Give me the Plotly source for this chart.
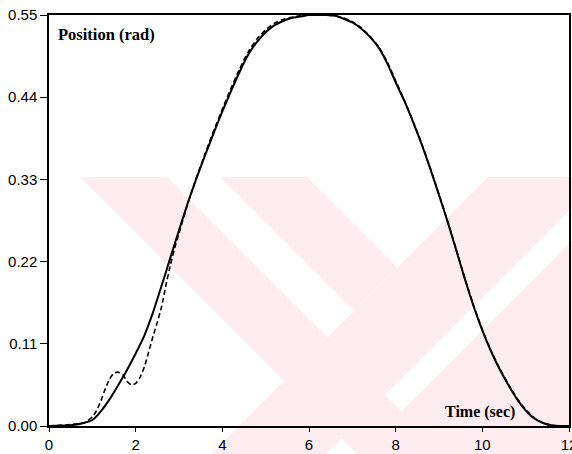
import plotly.graph_objects as go

# ---- data ----
t_solid = [0, 0.5, 0.8, 1.0, 1.2, 1.4, 1.6, 1.8, 2.0, 2.2, 2.4, 2.6, 2.8, 3.0, 3.2, 3.4, 3.6,
           3.8, 4.0, 4.2, 4.4, 4.6, 4.8, 5.0, 5.2, 5.4, 5.6, 5.8, 6.0, 6.2, 6.4, 6.6, 6.8, 7.0,
           7.2, 7.4, 7.6, 7.8, 8.0, 8.2, 8.4, 8.6, 8.8, 9.0, 9.2, 9.4, 9.6, 9.8, 10.0, 10.2,
           10.4, 10.6, 10.8, 11.0, 11.2, 11.4, 11.6, 11.8, 12.0]
v_solid = [0, 0.001, 0.004, 0.008, 0.020, 0.036, 0.055, 0.075, 0.097, 0.121, 0.152, 0.188,
           0.225, 0.262, 0.298, 0.331, 0.362, 0.392, 0.421, 0.448, 0.474, 0.497, 0.514, 0.527,
           0.536, 0.542, 0.546, 0.548, 0.550, 0.550, 0.550, 0.549, 0.545, 0.540, 0.532, 0.521,
           0.507, 0.486, 0.460, 0.435, 0.407, 0.377, 0.344, 0.309, 0.273, 0.235, 0.196, 0.160,
           0.128, 0.100, 0.076, 0.055, 0.036, 0.021, 0.010, 0.004, 0.001, 0.0, 0.0]

t_dash = [0, 0.5, 0.8, 1.0, 1.1, 1.2, 1.3, 1.4, 1.5, 1.6, 1.7, 1.8, 1.9, 2.0, 2.1, 2.2, 2.3,
          2.4, 2.5, 2.6, 2.7, 2.8, 2.9, 3.0, 3.2, 3.4, 3.6, 3.8, 4.0, 4.2, 4.4, 4.6, 4.8, 5.0,
          5.2, 5.4, 5.6, 5.8, 6.0, 6.2, 6.4, 6.6, 6.8, 7.0, 7.2, 7.4, 7.6, 7.8, 8.0, 8.2, 8.4,
          8.6, 8.8, 9.0, 9.2, 9.4, 9.6, 9.8, 10.0, 10.2, 10.4, 10.6, 10.8, 11.0, 11.2, 11.4,
          11.6, 11.8, 12.0]
v_dash = [0, 0.002, 0.004, 0.012, 0.021, 0.034, 0.050, 0.063, 0.071, 0.072, 0.069, 0.060,
          0.055, 0.057, 0.065, 0.079, 0.099, 0.120, 0.139, 0.160, 0.189, 0.215, 0.238, 0.258,
          0.297, 0.332, 0.364, 0.395, 0.424, 0.452, 0.478, 0.501, 0.518, 0.530, 0.539, 0.544,
          0.547, 0.549, 0.550, 0.550, 0.550, 0.549, 0.546, 0.541, 0.533, 0.522, 0.508, 0.488,
          0.462, 0.436, 0.408, 0.378, 0.345, 0.310, 0.274, 0.236, 0.197, 0.161, 0.129, 0.101,
          0.077, 0.056, 0.037, 0.022, 0.011, 0.004, 0.001, 0.0, 0.0]

x_ticks = [0, 2, 4, 6, 8, 10, 12]
x_ticktext = ["0", "2", "4", "6", "8", "10", "12"]
y_ticks = [0.0, 0.11, 0.22, 0.33, 0.44, 0.55]
y_ticktext = ["0.00", "0.11", "0.22", "0.33", "0.44", "0.55"]

y_label = "Position (rad)"
x_label = "Time (sec)"

# ---- layout geometry (pixels) ----
W, H = 572, 454
L, R, T, B = 49, 3, 15, 28
PW, PH = W - L - R, H - T - B


def px(xp, yp):
    return (xp - L) / PW, (H - B - yp) / PH


def path(points):
    pts = [px(a, b) for a, b in points]
    return "M " + " L ".join(f"{a:.4f},{b:.4f}" for a, b in pts) + " Z"


wm_color = "#fdedf1"
wm_polys = [
    [(80, 177), (167, 177), (444, 454), (357, 454)],
    [(220, 177), (307, 177), (397.5, 267.5), (354, 311)],
    [(488, 177), (572, 177), (572, 208), (326, 454), (211, 454)],
    [(572, 241), (572, 454), (359, 454)],
]

fig = go.Figure()
fig.add_trace(go.Scatter(x=t_solid, y=v_solid, mode="lines",
                         line=dict(color="black", width=2, shape="spline", smoothing=0.5),
                         showlegend=False, hoverinfo="skip"))
fig.add_trace(go.Scatter(x=t_dash, y=v_dash, mode="lines",
                         line=dict(color="black", width=1.6, dash="5px,3px", shape="spline", smoothing=0.5),
                         showlegend=False, hoverinfo="skip"))

shapes = [dict(type="path", xref="paper", yref="paper", path=path(p),
               fillcolor=wm_color, line=dict(width=0), layer="below") for p in wm_polys]

axis_common = dict(showline=True, linecolor="black", linewidth=1.5, mirror=True,
                   ticks="outside", tickwidth=1.2, tickcolor="black",
                   showgrid=False, zeroline=False, automargin=False,
                   tickfont=dict(family="Liberation Sans, Arial, sans-serif", size=15, color="black"))

fig.update_layout(
    width=W, height=H,
    margin=dict(l=L, r=R, t=T, b=B, pad=0, autoexpand=False),
    paper_bgcolor="white", plot_bgcolor="rgba(0,0,0,0)",
    xaxis=dict(range=[0, 12], tickvals=x_ticks, ticktext=x_ticktext, ticklen=4,
               ticklabeloverflow="allow", **axis_common),
    yaxis=dict(range=[0, 0.55], tickvals=y_ticks, ticktext=y_ticktext, ticklen=7,
               ticklabeloverflow="allow", **axis_common),
    shapes=shapes,
    annotations=[
        dict(text="<b>" + y_label + "</b>", xref="paper", yref="paper",
             x=px(56, 0)[0], y=px(0, 34)[1],
             xanchor="left", yanchor="middle", showarrow=False,
             font=dict(family="Liberation Serif, Times New Roman, serif", size=16.5, color="black")),
        dict(text="<b>" + x_label + "</b>", xref="paper", yref="paper",
             x=px(480, 0)[0], y=px(0, 412)[1],
             xanchor="center", yanchor="middle", showarrow=False,
             font=dict(family="Liberation Serif, Times New Roman, serif", size=16, color="black")),
    ],
)

fig.write_html("out.html",
               config={"displayModeBar": False, "responsive": False},
               post_script="document.body.style.margin='0';document.body.style.overflow='hidden';")
